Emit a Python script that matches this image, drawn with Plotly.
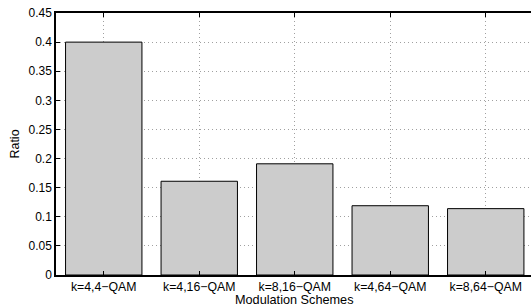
import plotly.graph_objects as go

categories = ["k=4,4\u2212QAM", "k=4,16\u2212QAM", "k=8,16\u2212QAM", "k=4,64\u2212QAM", "k=8,64\u2212QAM"]
ratios = [0.40, 0.161, 0.191, 0.119, 0.114]
y_ticks = [0, 0.05, 0.1, 0.15, 0.2, 0.25, 0.3, 0.35, 0.4, 0.45]
y_tick_labels = ["0", "0.05", "0.1", "0.15", "0.2", "0.25", "0.3", "0.35", "0.4", "0.45"]

xpos = list(range(1, len(categories) + 1))

fig = go.Figure(go.Bar(
    x=xpos, y=ratios, width=0.8,
    marker=dict(color="#cccccc", line=dict(color="black", width=1)),
    hoverinfo="skip",
))

font = "Liberation Sans, Arial, Helvetica, sans-serif"
fig.update_layout(
    width=531, height=307,
    margin=dict(l=56, r=0, t=13, b=32),
    paper_bgcolor="white", plot_bgcolor="white",
    showlegend=False,
    font=dict(family=font, size=12, color="black"),
)
fig.update_xaxes(
    range=[0.5, 5.474], tickmode="array", tickvals=xpos, ticktext=categories,
    showgrid=True, gridcolor="#a0a0a0", griddash="1px,3px", gridwidth=1,
    showline=True, linecolor="black", linewidth=1.5, mirror="ticks",
    ticks="inside", ticklen=4, tickcolor="black",
    tickfont=dict(size=12.3), ticklabelstandoff=-1,
    zeroline=False,
)
fig.update_yaxes(
    range=[0, 0.45], tickmode="array", tickvals=y_ticks, ticktext=y_tick_labels,
    showgrid=True, gridcolor="#a0a0a0", griddash="1px,3px", gridwidth=1,
    showline=True, linecolor="black", linewidth=1.5, mirror=False,
    ticks="inside", ticklen=4, tickcolor="black",
    tickfont=dict(size=12),
    title=dict(text="Ratio", standoff=6, font=dict(size=12.5)),
    zeroline=False,
)
fig.add_annotation(
    text="Modulation Schemes", xref="paper", yref="paper",
    x=0.5, y=-0.097, xanchor="center", yanchor="middle",
    showarrow=False, font=dict(size=12.7),
)
fig.write_html("out.html", config={"displayModeBar": False})

with open("out.html", "r", encoding="utf-8") as f:
    html = f.read()
html = html.replace("<head>", "<head><style>html,body{margin:0;padding:0;overflow:hidden;}</style>", 1)
with open("out.html", "w", encoding="utf-8") as f:
    f.write(html)
